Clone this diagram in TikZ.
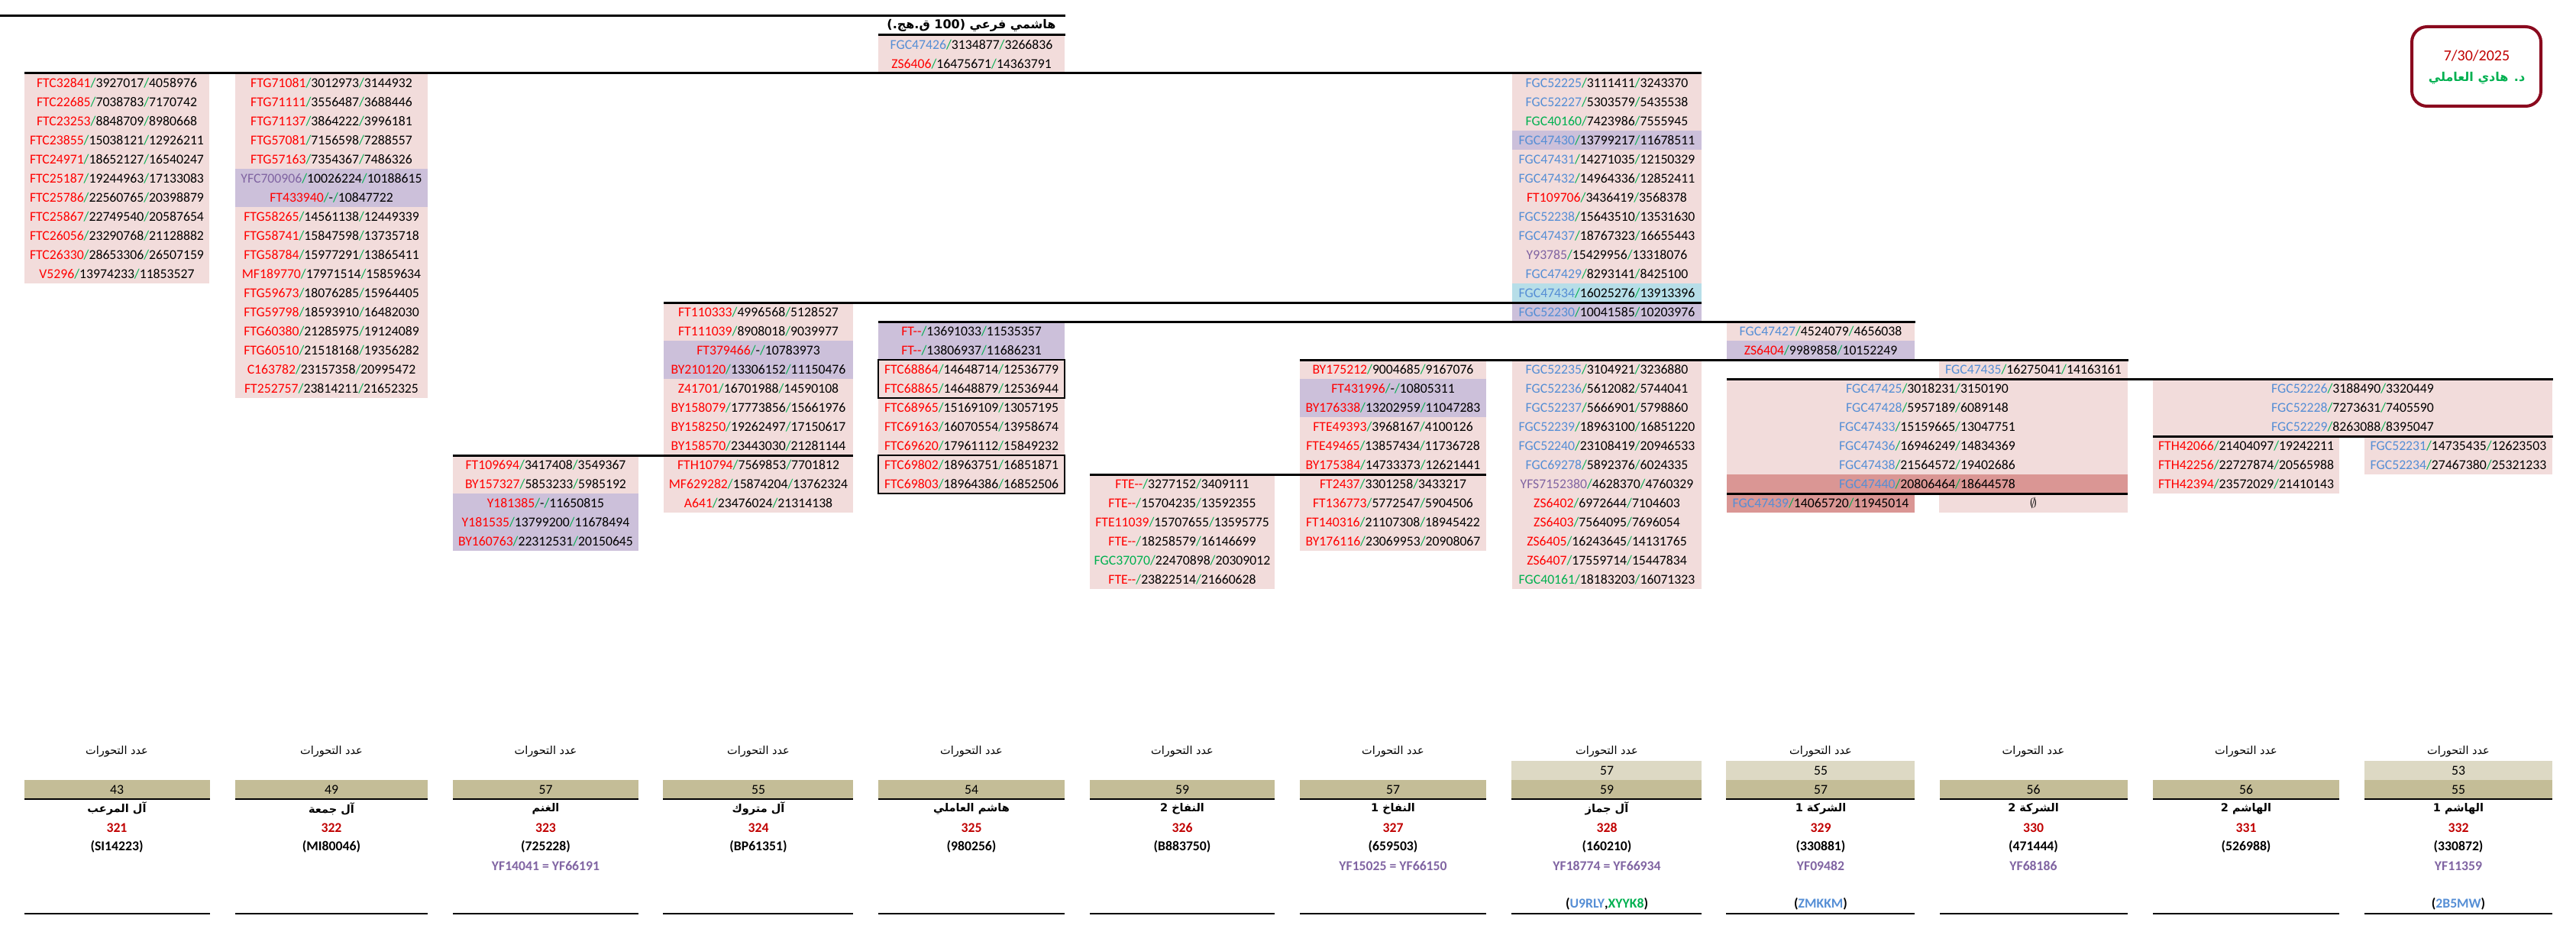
\documentclass[tikz,border=0pt]{standalone}
\usepackage{fontspec}
\setmainfont{Carlito}
\newfontfamily\arabicfont[Script=Arabic]{DejaVu Sans}
\TeXXeTstate=1

\definecolor{cellpink}{HTML}{F2DCDB}
\definecolor{cellpurple}{HTML}{CCC0DA}
\definecolor{cellrose}{HTML}{DA9694}
\definecolor{cellblue}{HTML}{B7DEE8}
\definecolor{counttan}{HTML}{C4BD97}
\definecolor{countlight}{HTML}{DDD9C4}
\definecolor{labred}{HTML}{FF0000}
\definecolor{labblue}{HTML}{558ED5}
\definecolor{labgreen}{HTML}{00B050}
\definecolor{labpurple}{HTML}{8064A2}
\definecolor{sep}{HTML}{00B050}
\definecolor{numred}{HTML}{C00000}
\definecolor{boxred}{HTML}{8A0A1E}

% label / position / position
\newcommand{\snp}[4]{\textcolor{#1}{#2}\textcolor{sep}{/}#3\textcolor{sep}{/}#4}
\newcommand{\artext}[1]{{\arabicfont\beginR #1\endR}}

\begin{document}
\begin{tikzpicture}[x=1pt, y=-25pt,
    cell/.style={inner sep=0pt, font=\fontsize{17.7}{20}\selectfont, text height=11.5pt, text depth=0pt},
    artxt/.style={inner sep=0pt, font=\fontsize{14.5}{17}\selectfont},
    arbold/.style={inner sep=0pt, font=\fontsize{14.5}{17}\selectfont\bfseries},
    bold/.style={inner sep=0pt, font=\fontsize{17.7}{20}\selectfont\bfseries},
    thickrule/.style={line width=3pt},
    thinrule/.style={line width=2pt}]
\useasboundingbox (0,-0.84) rectangle (3373,47.96);

% Cell backgrounds
\fill[cellpink] (1150,1) rectangle (1394,3);
\fill[cellpink] (32,3) rectangle (274,14);
\fill[cellpink] (308,3) rectangle (560,20);
\fill[cellpurple] (308,8) rectangle (560,10);
\fill[cellpink] (1980,3) rectangle (2228,14);
\fill[cellpurple] (1980,6) rectangle (2228,7);
\fill[cellblue] (1980,14) rectangle (2228,15);
\fill[cellpurple] (1980,15) rectangle (2228,16);
\fill[cellpink] (869,15) rectangle (1117,26);
\fill[cellpurple] (869,17) rectangle (1117,19);
\fill[cellpink] (593,23) rectangle (836,25);
\fill[cellpurple] (593,25) rectangle (836,28);
\fill[cellpurple] (1150,16) rectangle (1394,18);
\fill[cellpink] (1150,18) rectangle (1394,25);
\fill[cellpink] (2261,16) rectangle (2507,17);
\fill[cellpurple] (2261,17) rectangle (2507,18);
\fill[cellpink] (1702,18) rectangle (1946,28);
\fill[cellpurple] (1702,19) rectangle (1946,21);
\fill[cellpink] (1427,24) rectangle (1669,30);
\fill[cellpink] (1980,18) rectangle (2228,30);
\fill[cellpink] (2539,18) rectangle (2786,19);
\fill[cellpink] (2261,19) rectangle (2786,24);
\fill[cellrose] (2261,24) rectangle (2786,25);
\fill[cellrose] (2261,25) rectangle (2507,26);
\fill[cellpink] (2539,25) rectangle (2786,26);
\fill[cellpink] (2819,19) rectangle (3342,22);
\fill[cellpink] (2819,22) rectangle (3063,25);
\fill[cellpink] (3096,22) rectangle (3342,24);

% Boxed pairs
\draw[line width=1.5pt] (1150,18) rectangle (1394,20);
\draw[line width=1.5pt] (1150,23) rectangle (1394,25);

% Branch lines
\draw[thickrule] (0,0) -- (1395,0);
\draw[thickrule] (1150,1) -- (1395,1);
\draw[thickrule] (32,3) -- (2228,3);
\draw[thickrule] (869,15) -- (2228,15);
\draw[thickrule] (1150,16) -- (2508,16);
\draw[thickrule] (1702,18) -- (2787,18);
\draw[thickrule] (2261,19) -- (3343,19);
\draw[thickrule] (2819,22) -- (3343,22);
\draw[thickrule] (593,23) -- (1117,23);
\draw[thickrule] (1427,24) -- (1946,24);
\draw[thickrule] (2261,25) -- (2786,25);

% Root
\node[arbold, font=\fontsize{16}{18}\selectfont\bfseries] (root) at (1272,0.5) {\artext{هاشمي فرعي (100 ق.هج.)}};
\node[cell] (e1) at (1272,1.5) {\snp{labblue}{FGC47426}{3134877}{3266836}};
\node[cell] (e2) at (1272,2.5) {\snp{labred}{ZS6406}{16475671}{14363791}};

% Column A
\node[cell] (a1) at (153,3.5) {\snp{labred}{FTC32841}{3927017}{4058976}};
\node[cell] (a2) at (153,4.5) {\snp{labred}{FTC22685}{7038783}{7170742}};
\node[cell] (a3) at (153,5.5) {\snp{labred}{FTC23253}{8848709}{8980668}};
\node[cell] (a4) at (153,6.5) {\snp{labred}{FTC23855}{15038121}{12926211}};
\node[cell] (a5) at (153,7.5) {\snp{labred}{FTC24971}{18652127}{16540247}};
\node[cell] (a6) at (153,8.5) {\snp{labred}{FTC25187}{19244963}{17133083}};
\node[cell] (a7) at (153,9.5) {\snp{labred}{FTC25786}{22560765}{20398879}};
\node[cell] (a8) at (153,10.5) {\snp{labred}{FTC25867}{22749540}{20587654}};
\node[cell] (a9) at (153,11.5) {\snp{labred}{FTC26056}{23290768}{21128882}};
\node[cell] (a10) at (153,12.5) {\snp{labred}{FTC26330}{28653306}{26507159}};
\node[cell] (a11) at (153,13.5) {\snp{labred}{V5296}{13974233}{11853527}};

% Column B
\node[cell] (b1) at (434,3.5) {\snp{labred}{FTG71081}{3012973}{3144932}};
\node[cell] (b2) at (434,4.5) {\snp{labred}{FTG71111}{3556487}{3688446}};
\node[cell] (b3) at (434,5.5) {\snp{labred}{FTG71137}{3864222}{3996181}};
\node[cell] (b4) at (434,6.5) {\snp{labred}{FTG57081}{7156598}{7288557}};
\node[cell] (b5) at (434,7.5) {\snp{labred}{FTG57163}{7354367}{7486326}};
\node[cell] (b6) at (434,8.5) {\snp{labpurple}{YFC700906}{10026224}{10188615}};
\node[cell] (b7) at (434,9.5) {\snp{labred}{FT433940}{-}{10847722}};
\node[cell] (b8) at (434,10.5) {\snp{labred}{FTG58265}{14561138}{12449339}};
\node[cell] (b9) at (434,11.5) {\snp{labred}{FTG58741}{15847598}{13735718}};
\node[cell] (b10) at (434,12.5) {\snp{labred}{FTG58784}{15977291}{13865411}};
\node[cell] (b11) at (434,13.5) {\snp{labred}{MF189770}{17971514}{15859634}};
\node[cell] (b12) at (434,14.5) {\snp{labred}{FTG59673}{18076285}{15964405}};
\node[cell] (b13) at (434,15.5) {\snp{labred}{FTG59798}{18593910}{16482030}};
\node[cell] (b14) at (434,16.5) {\snp{labred}{FTG60380}{21285975}{19124089}};
\node[cell] (b15) at (434,17.5) {\snp{labred}{FTG60510}{21518168}{19356282}};
\node[cell] (b16) at (434,18.5) {\snp{labred}{C163782}{23157358}{20995472}};
\node[cell] (b17) at (434,19.5) {\snp{labred}{FT252757}{23814211}{21652325}};

% Column C
\node[cell] (c1) at (714.5,23.5) {\snp{labred}{FT109694}{3417408}{3549367}};
\node[cell] (c2) at (714.5,24.5) {\snp{labred}{BY157327}{5853233}{5985192}};
\node[cell] (c3) at (714.5,25.5) {\snp{labred}{Y181385}{-}{11650815}};
\node[cell] (c4) at (714.5,26.5) {\snp{labred}{Y181535}{13799200}{11678494}};
\node[cell] (c5) at (714.5,27.5) {\snp{labred}{BY160763}{22312531}{20150645}};

% Column D
\node[cell] (d1) at (993,15.5) {\snp{labred}{FT110333}{4996568}{5128527}};
\node[cell] (d2) at (993,16.5) {\snp{labred}{FT111039}{8908018}{9039977}};
\node[cell] (d3) at (993,17.5) {\snp{labred}{FT379466}{-}{10783973}};
\node[cell] (d4) at (993,18.5) {\snp{labred}{BY210120}{13306152}{11150476}};
\node[cell] (d5) at (993,19.5) {\snp{labred}{Z41701}{16701988}{14590108}};
\node[cell] (d6) at (993,20.5) {\snp{labred}{BY158079}{17773856}{15661976}};
\node[cell] (d7) at (993,21.5) {\snp{labred}{BY158250}{19262497}{17150617}};
\node[cell] (d8) at (993,22.5) {\snp{labred}{BY158570}{23443030}{21281144}};
\node[cell] (d9) at (993,23.5) {\snp{labred}{FTH10794}{7569853}{7701812}};
\node[cell] (d10) at (993,24.5) {\snp{labred}{MF629282}{15874204}{13762324}};
\node[cell] (d11) at (993,25.5) {\snp{labred}{A641}{23476024}{21314138}};

% Column E
\node[cell] (e3) at (1272,16.5) {\snp{labred}{FT{-}{-}}{13691033}{11535357}};
\node[cell] (e4) at (1272,17.5) {\snp{labred}{FT{-}{-}}{13806937}{11686231}};
\node[cell] (e5) at (1272,18.5) {\snp{labred}{FTC68864}{14648714}{12536779}};
\node[cell] (e6) at (1272,19.5) {\snp{labred}{FTC68865}{14648879}{12536944}};
\node[cell] (e7) at (1272,20.5) {\snp{labred}{FTC68965}{15169109}{13057195}};
\node[cell] (e8) at (1272,21.5) {\snp{labred}{FTC69163}{16070554}{13958674}};
\node[cell] (e9) at (1272,22.5) {\snp{labred}{FTC69620}{17961112}{15849232}};
\node[cell] (e10) at (1272,23.5) {\snp{labred}{FTC69802}{18963751}{16851871}};
\node[cell] (e11) at (1272,24.5) {\snp{labred}{FTC69803}{18964386}{16852506}};

% Column F
\node[cell] (f1) at (1548,24.5) {\snp{labred}{FTE{-}{-}}{3277152}{3409111}};
\node[cell] (f2) at (1548,25.5) {\snp{labred}{FTE{-}{-}}{15704235}{13592355}};
\node[cell] (f3) at (1548,26.5) {\snp{labred}{FTE11039}{15707655}{13595775}};
\node[cell] (f4) at (1548,27.5) {\snp{labred}{FTE{-}{-}}{18258579}{16146699}};
\node[cell] (f5) at (1548,28.5) {\snp{labgreen}{FGC37070}{22470898}{20309012}};
\node[cell] (f6) at (1548,29.5) {\snp{labred}{FTE{-}{-}}{23822514}{21660628}};

% Column G
\node[cell] (g1) at (1824,18.5) {\snp{labred}{BY175212}{9004685}{9167076}};
\node[cell] (g2) at (1824,19.5) {\snp{labred}{FT431996}{-}{10805311}};
\node[cell] (g3) at (1824,20.5) {\snp{labred}{BY176338}{13202959}{11047283}};
\node[cell] (g4) at (1824,21.5) {\snp{labred}{FTE49393}{3968167}{4100126}};
\node[cell] (g5) at (1824,22.5) {\snp{labred}{FTE49465}{13857434}{11736728}};
\node[cell] (g6) at (1824,23.5) {\snp{labred}{BY175384}{14733373}{12621441}};
\node[cell] (g7) at (1824,24.5) {\snp{labred}{FT2437}{3301258}{3433217}};
\node[cell] (g8) at (1824,25.5) {\snp{labred}{FT136773}{5772547}{5904506}};
\node[cell] (g9) at (1824,26.5) {\snp{labred}{FT140316}{21107308}{18945422}};
\node[cell] (g10) at (1824,27.5) {\snp{labred}{BY176116}{23069953}{20908067}};

% Column H
\node[cell] (h1) at (2104,3.5) {\snp{labblue}{FGC52225}{3111411}{3243370}};
\node[cell] (h2) at (2104,4.5) {\snp{labblue}{FGC52227}{5303579}{5435538}};
\node[cell] (h3) at (2104,5.5) {\snp{labgreen}{FGC40160}{7423986}{7555945}};
\node[cell] (h4) at (2104,6.5) {\snp{labblue}{FGC47430}{13799217}{11678511}};
\node[cell] (h5) at (2104,7.5) {\snp{labblue}{FGC47431}{14271035}{12150329}};
\node[cell] (h6) at (2104,8.5) {\snp{labblue}{FGC47432}{14964336}{12852411}};
\node[cell] (h7) at (2104,9.5) {\snp{labred}{FT109706}{3436419}{3568378}};
\node[cell] (h8) at (2104,10.5) {\snp{labblue}{FGC52238}{15643510}{13531630}};
\node[cell] (h9) at (2104,11.5) {\snp{labblue}{FGC47437}{18767323}{16655443}};
\node[cell] (h10) at (2104,12.5) {\snp{labpurple}{Y93785}{15429956}{13318076}};
\node[cell] (h11) at (2104,13.5) {\snp{labblue}{FGC47429}{8293141}{8425100}};
\node[cell] (h12) at (2104,14.5) {\snp{labblue}{FGC47434}{16025276}{13913396}};
\node[cell] (h13) at (2104,15.5) {\snp{labblue}{FGC52230}{10041585}{10203976}};
\node[cell] (h14) at (2104,18.5) {\snp{labblue}{FGC52235}{3104921}{3236880}};
\node[cell] (h15) at (2104,19.5) {\snp{labblue}{FGC52236}{5612082}{5744041}};
\node[cell] (h16) at (2104,20.5) {\snp{labblue}{FGC52237}{5666901}{5798860}};
\node[cell] (h17) at (2104,21.5) {\snp{labblue}{FGC52239}{18963100}{16851220}};
\node[cell] (h18) at (2104,22.5) {\snp{labblue}{FGC52240}{23108419}{20946533}};
\node[cell] (h19) at (2104,23.5) {\snp{labblue}{FGC69278}{5892376}{6024335}};
\node[cell] (h20) at (2104,24.5) {\snp{labpurple}{YFS7152380}{4628370}{4760329}};
\node[cell] (h21) at (2104,25.5) {\snp{labred}{ZS6402}{6972644}{7104603}};
\node[cell] (h22) at (2104,26.5) {\snp{labred}{ZS6403}{7564095}{7696054}};
\node[cell] (h23) at (2104,27.5) {\snp{labred}{ZS6405}{16243645}{14131765}};
\node[cell] (h24) at (2104,28.5) {\snp{labred}{ZS6407}{17559714}{15447834}};
\node[cell] (h25) at (2104,29.5) {\snp{labgreen}{FGC40161}{18183203}{16071323}};

% Columns I and J
\node[cell] (i1) at (2384,16.5) {\snp{labblue}{FGC47427}{4524079}{4656038}};
\node[cell] (i2) at (2384,17.5) {\snp{labred}{ZS6404}{9989858}{10152249}};
\node[cell] (j1) at (2662.5,18.5) {\snp{labblue}{FGC47435}{16275041}{14163161}};
\node[cell] (ij1) at (2523.5,19.5) {\snp{labblue}{FGC47425}{3018231}{3150190}};
\node[cell] (ij2) at (2523.5,20.5) {\snp{labblue}{FGC47428}{5957189}{6089148}};
\node[cell] (ij3) at (2523.5,21.5) {\snp{labblue}{FGC47433}{15159665}{13047751}};
\node[cell] (ij4) at (2523.5,22.5) {\snp{labblue}{FGC47436}{16946249}{14834369}};
\node[cell] (ij5) at (2523.5,23.5) {\snp{labblue}{FGC47438}{21564572}{19402686}};
\node[cell] (ij6) at (2523.5,24.5) {\snp{labblue}{FGC47440}{20806464}{18644578}};
\node[cell] (i3) at (2384,25.5) {\snp{labblue}{FGC47439}{14065720}{11945014}};
\node[cell] (j2) at (2662.5,25.5) {$\emptyset$};

% Columns K and L
\node[cell] (kl1) at (3080.5,19.5) {\snp{labblue}{FGC52226}{3188490}{3320449}};
\node[cell] (kl2) at (3080.5,20.5) {\snp{labblue}{FGC52228}{7273631}{7405590}};
\node[cell] (kl3) at (3080.5,21.5) {\snp{labblue}{FGC52229}{8263088}{8395047}};
\node[cell] (k1) at (2941,22.5) {\snp{labred}{FTH42066}{21404097}{19242211}};
\node[cell] (k2) at (2941,23.5) {\snp{labred}{FTH42256}{22727874}{20565988}};
\node[cell] (k3) at (2941,24.5) {\snp{labred}{FTH42394}{23572029}{21410143}};
\node[cell] (l1) at (3219,22.5) {\snp{labblue}{FGC52231}{14735435}{12623503}};
\node[cell] (l2) at (3219,23.5) {\snp{labblue}{FGC52234}{27467380}{25321233}};

% Date box
\draw[boxred, line width=4pt, rounded corners=20pt] (3158,0.56) rectangle (3327,4.72);
\node[inner sep=0pt, font=\fontsize{20}{22}\selectfont, text=numred] (date) at (3243,2.08) {7/30/2025};
\node[arbold, font=\fontsize{16}{18}\selectfont\bfseries, text=labgreen] (author) at (3243,3.24) {\artext{د. هادي العاملي}};

% Count boxes
\fill[countlight] (1979,39) rectangle (2228,40);
\fill[countlight] (2260,39) rectangle (2507,40);
\fill[countlight] (3096,39) rectangle (3342,40);
\fill[counttan] (32,40) rectangle (275,41);
\fill[counttan] (308,40) rectangle (560,41);
\fill[counttan] (593,40) rectangle (836,41);
\fill[counttan] (868,40) rectangle (1117,41);
\fill[counttan] (1150,40) rectangle (1394,41);
\fill[counttan] (1427,40) rectangle (1669,41);
\fill[counttan] (1702,40) rectangle (1946,41);
\fill[counttan] (1979,40) rectangle (2228,41);
\fill[counttan] (2260,40) rectangle (2507,41);
\fill[counttan] (2540,40) rectangle (2786,41);
\fill[counttan] (2819,40) rectangle (3063,41);
\fill[counttan] (3096,40) rectangle (3342,41);

\draw[thinrule] (32,41) -- (275,41);
\draw[thinrule] (308,41) -- (560,41);
\draw[thinrule] (593,41) -- (836,41);
\draw[thinrule] (868,41) -- (1117,41);
\draw[thinrule] (1150,41) -- (1394,41);
\draw[thinrule] (1427,41) -- (1669,41);
\draw[thinrule] (1702,41) -- (1946,41);
\draw[thinrule] (1979,41) -- (2228,41);
\draw[thinrule] (2260,41) -- (2507,41);
\draw[thinrule] (2540,41) -- (2786,41);
\draw[thinrule] (2819,41) -- (3063,41);
\draw[thinrule] (3096,41) -- (3342,41);

\draw[thinrule] (32,47) -- (275,47);
\draw[thinrule] (308,47) -- (560,47);
\draw[thinrule] (593,47) -- (836,47);
\draw[thinrule] (868,47) -- (1117,47);
\draw[thinrule] (1150,47) -- (1394,47);
\draw[thinrule] (1427,47) -- (1669,47);
\draw[thinrule] (1702,47) -- (1946,47);
\draw[thinrule] (1979,47) -- (2228,47);
\draw[thinrule] (2260,47) -- (2507,47);
\draw[thinrule] (2540,47) -- (2786,47);
\draw[thinrule] (2819,47) -- (3063,47);
\draw[thinrule] (3096,47) -- (3342,47);

% Mutation counts
\node[artxt] (hd1) at (153,38.5) {\artext{عدد التحورات}};
\node[artxt] (hd2) at (434,38.5) {\artext{عدد التحورات}};
\node[artxt] (hd3) at (714.5,38.5) {\artext{عدد التحورات}};
\node[artxt] (hd4) at (993,38.5) {\artext{عدد التحورات}};
\node[artxt] (hd5) at (1272,38.5) {\artext{عدد التحورات}};
\node[artxt] (hd6) at (1548,38.5) {\artext{عدد التحورات}};
\node[artxt] (hd7) at (1824,38.5) {\artext{عدد التحورات}};
\node[artxt] (hd8) at (2104,38.5) {\artext{عدد التحورات}};
\node[artxt] (hd9) at (2384,38.5) {\artext{عدد التحورات}};
\node[artxt] (hd10) at (2662.5,38.5) {\artext{عدد التحورات}};
\node[artxt] (hd11) at (2941,38.5) {\artext{عدد التحورات}};
\node[artxt] (hd12) at (3219,38.5) {\artext{عدد التحورات}};

\node[cell] (up8) at (2104,39.5) {57};
\node[cell] (up9) at (2384,39.5) {55};
\node[cell] (up12) at (3219,39.5) {53};
\node[cell] (cn1) at (153,40.5) {43};
\node[cell] (cn2) at (434,40.5) {49};
\node[cell] (cn3) at (714.5,40.5) {57};
\node[cell] (cn4) at (993,40.5) {55};
\node[cell] (cn5) at (1272,40.5) {54};
\node[cell] (cn6) at (1548,40.5) {59};
\node[cell] (cn7) at (1824,40.5) {57};
\node[cell] (cn8) at (2104,40.5) {59};
\node[cell] (cn9) at (2384,40.5) {57};
\node[cell] (cn10) at (2662.5,40.5) {56};
\node[cell] (cn11) at (2941,40.5) {56};
\node[cell] (cn12) at (3219,40.5) {55};

% Family names
\node[arbold] (fm1) at (153,41.5) {\artext{آل المرعب}};
\node[arbold] (fm2) at (434,41.5) {\artext{آل جمعة}};
\node[arbold] (fm3) at (714.5,41.5) {\artext{الغنم}};
\node[arbold] (fm4) at (993,41.5) {\artext{آل متروك}};
\node[arbold] (fm5) at (1272,41.5) {\artext{هاشم العاملي}};
\node[arbold] (fm6) at (1548,41.5) {\artext{النفاخ 2}};
\node[arbold] (fm7) at (1824,41.5) {\artext{النفاخ 1}};
\node[arbold] (fm8) at (2104,41.5) {\artext{آل جماز}};
\node[arbold] (fm9) at (2384,41.5) {\artext{الشركة 1}};
\node[arbold] (fm10) at (2662.5,41.5) {\artext{الشركة 2}};
\node[arbold] (fm11) at (2941,41.5) {\artext{الهاشم 2}};
\node[arbold] (fm12) at (3219,41.5) {\artext{الهاشم 1}};

% Numbers and kit codes
\node[bold, text=numred] (no1) at (153,42.5) {321};
\node[bold, text=numred] (no2) at (434,42.5) {322};
\node[bold, text=numred] (no3) at (714.5,42.5) {323};
\node[bold, text=numred] (no4) at (993,42.5) {324};
\node[bold, text=numred] (no5) at (1272,42.5) {325};
\node[bold, text=numred] (no6) at (1548,42.5) {326};
\node[bold, text=numred] (no7) at (1824,42.5) {327};
\node[bold, text=numred] (no8) at (2104,42.5) {328};
\node[bold, text=numred] (no9) at (2384,42.5) {329};
\node[bold, text=numred] (no10) at (2662.5,42.5) {330};
\node[bold, text=numred] (no11) at (2941,42.5) {331};
\node[bold, text=numred] (no12) at (3219,42.5) {332};

\node[bold] (kit1) at (153,43.5) {(SI14223)};
\node[bold] (kit2) at (434,43.5) {(MI80046)};
\node[bold] (kit3) at (714.5,43.5) {(725228)};
\node[bold] (kit4) at (993,43.5) {(BP61351)};
\node[bold] (kit5) at (1272,43.5) {(980256)};
\node[bold] (kit6) at (1548,43.5) {(B883750)};
\node[bold] (kit7) at (1824,43.5) {(659503)};
\node[bold] (kit8) at (2104,43.5) {(160210)};
\node[bold] (kit9) at (2384,43.5) {(330881)};
\node[bold] (kit10) at (2662.5,43.5) {(471444)};
\node[bold] (kit11) at (2941,43.5) {(526988)};
\node[bold] (kit12) at (3219,43.5) {(330872)};

\node[bold, text=labpurple] (yf3) at (714.5,44.5) {YF14041 = YF66191};
\node[bold, text=labpurple] (yf7) at (1824,44.5) {YF15025 = YF66150};
\node[bold, text=labpurple] (yf8) at (2104,44.5) {YF18774 = YF66934};
\node[bold, text=labpurple] (yf9) at (2384,44.5) {YF09482};
\node[bold, text=labpurple] (yf10) at (2662.5,44.5) {YF68186};
\node[bold, text=labpurple] (yf12) at (3219,44.5) {YF11359};

\node[bold] (ext8) at (2104,46.5) {(\textcolor{labblue}{U9RLY},\textcolor{labgreen}{XYYK8})};
\node[bold] (ext9) at (2384,46.5) {(\textcolor{labblue}{ZMKKM})};
\node[bold] (ext12) at (3219,46.5) {(\textcolor{labblue}{2B5MW})};
\end{tikzpicture}
\end{document}
